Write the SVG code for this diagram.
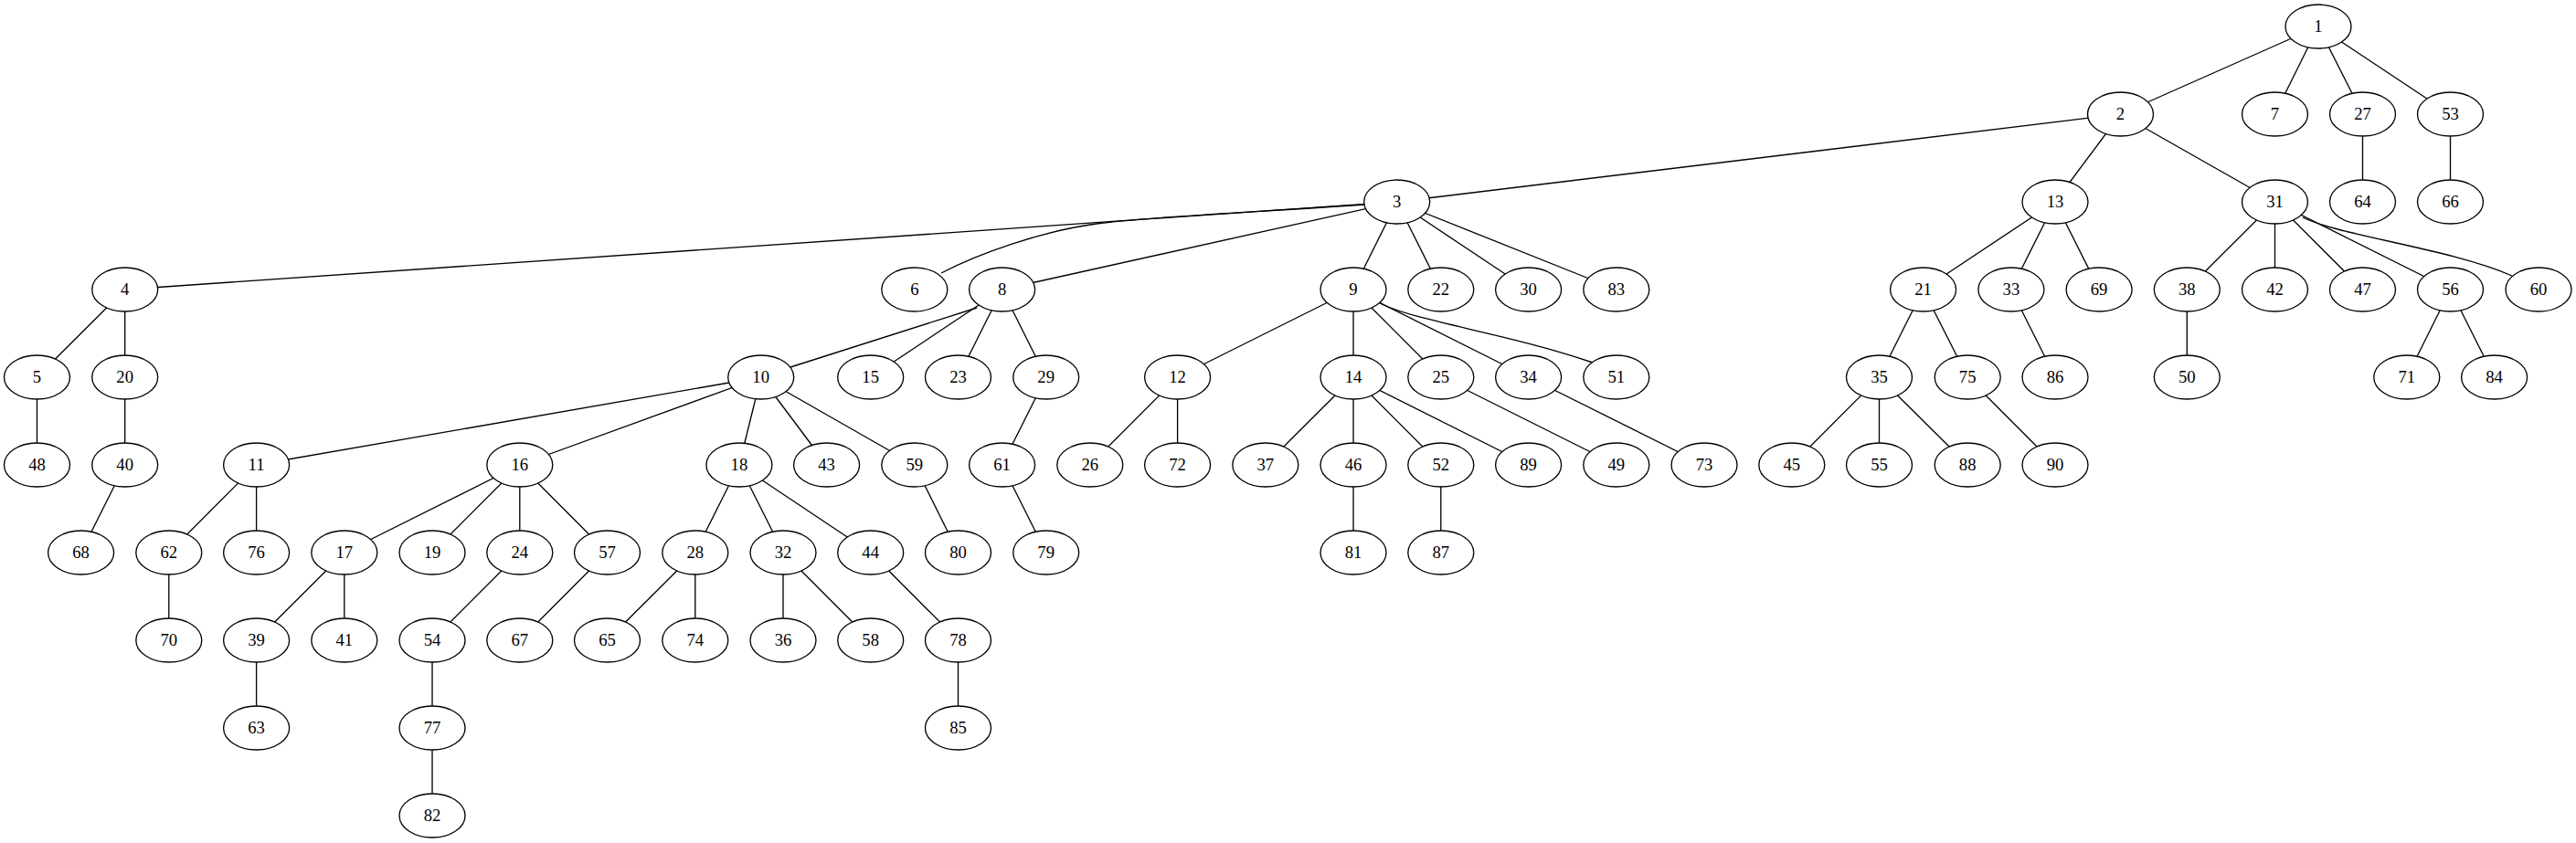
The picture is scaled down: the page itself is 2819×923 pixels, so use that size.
<svg xmlns="http://www.w3.org/2000/svg" width="2819" height="923" viewBox="0 0 2819 923">
<style>
.edges path{fill:none;stroke:#000;stroke-width:1.33}
.node ellipse{fill:#fff;stroke:#000;stroke-width:1.33}
.node text{font-family:"Liberation Serif","Times New Roman",serif;font-size:18.67px;text-anchor:middle;fill:#000}
</style>
<rect width="2819" height="923" fill="#fff"/>
<g id="edges" class="edges">
<path d="M2537,29L2320.5,125"/>
<path d="M2537,29L2489.5,125"/>
<path d="M2537,29L2585.5,125"/>
<path d="M2537,29L2681.5,125"/>
<path d="M2320.5,125L1528.7,221"/>
<path d="M2320.5,125L2249,221"/>
<path d="M2320.5,125L2489.5,221"/>
<path d="M2585.5,125L2585.5,221"/>
<path d="M2681.5,125L2681.5,221"/>
<path d="M1528.7,221L136.7,317"/>
<path d="M1493,224C1380,232 1260,237 1200,245S1070,278 1030,299"/>
<path d="M1528.7,221L1096.6,317"/>
<path d="M1528.7,221L1481,317"/>
<path d="M1528.7,221L1576.8,317"/>
<path d="M1528.7,221L1672.6,317"/>
<path d="M1528.7,221L1768.8,317"/>
<path d="M2249,221L2104.6,317"/>
<path d="M2249,221L2200.9,317"/>
<path d="M2249,221L2297.1,317"/>
<path d="M2489.5,221L2393.3,317"/>
<path d="M2489.5,221L2489.5,317"/>
<path d="M2489.5,221L2585.5,317"/>
<path d="M2489.5,221L2681.5,317"/>
<path d="M2520,238C2560,258 2680,272 2749,302"/>
<path d="M136.7,317L40.5,413"/>
<path d="M136.7,317L136.7,413"/>
<path d="M1069,337Q1050,343 865,402"/>
<path d="M1096.6,317L952.7,413"/>
<path d="M1096.6,317L1048.5,413"/>
<path d="M1096.6,317L1144.7,413"/>
<path d="M1481,317L1288.6,413"/>
<path d="M1481,317L1481,413"/>
<path d="M1481,317L1576.8,413"/>
<path d="M1481,317L1672.6,413"/>
<path d="M1510,332C1550,352 1650,365 1743,397"/>
<path d="M2104.6,317L2056.5,413"/>
<path d="M2104.6,317L2153.2,413"/>
<path d="M2200.9,317L2249,413"/>
<path d="M2393.3,317L2393.3,413"/>
<path d="M2681.5,317L2633.8,413"/>
<path d="M2681.5,317L2729.6,413"/>
<path d="M40.5,413L40.5,509"/>
<path d="M136.7,413L136.7,509"/>
<path d="M832.7,413L280.6,509"/>
<path d="M832.7,413L568.8,509"/>
<path d="M832.7,413L808.9,509"/>
<path d="M832.7,413L904.6,509"/>
<path d="M832.7,413L1000.8,509"/>
<path d="M1144.7,413L1096.6,509"/>
<path d="M1288.6,413L1192.8,509"/>
<path d="M1288.6,413L1288.6,509"/>
<path d="M1481,413L1384.8,509"/>
<path d="M1481,413L1481,509"/>
<path d="M1481,413L1576.8,509"/>
<path d="M1481,413L1672.6,509"/>
<path d="M1576.8,413L1768.8,509"/>
<path d="M1672.6,413L1865,509"/>
<path d="M2056.5,413L1960.8,509"/>
<path d="M2056.5,413L2056.5,509"/>
<path d="M2056.5,413L2153.2,509"/>
<path d="M2153.2,413L2249,509"/>
<path d="M136.7,509L88.6,605"/>
<path d="M280.6,509L184.8,605"/>
<path d="M280.6,509L280.6,605"/>
<path d="M568.8,509L376.8,605"/>
<path d="M568.8,509L473,605"/>
<path d="M568.8,509L568.8,605"/>
<path d="M568.8,509L664.5,605"/>
<path d="M808.9,509L760.8,605"/>
<path d="M808.9,509L857,605"/>
<path d="M808.9,509L952.7,605"/>
<path d="M1000.8,509L1048.5,605"/>
<path d="M1096.6,509L1144.7,605"/>
<path d="M1481,509L1481,605"/>
<path d="M1576.8,509L1576.8,605"/>
<path d="M184.8,605L184.8,701"/>
<path d="M376.8,605L280.6,701"/>
<path d="M376.8,605L376.8,701"/>
<path d="M568.8,605L473,701"/>
<path d="M664.5,605L568.8,701"/>
<path d="M760.8,605L664.5,701"/>
<path d="M760.8,605L760.8,701"/>
<path d="M857,605L857,701"/>
<path d="M857,605L952.7,701"/>
<path d="M952.7,605L1048.5,701"/>
<path d="M280.6,701L280.6,797"/>
<path d="M473,701L473,797"/>
<path d="M1048.5,701L1048.5,797"/>
<path d="M473,797L473,893"/>
</g>
<g id="n1" class="node"><ellipse cx="2537" cy="29" rx="36" ry="24"/><text x="2537" y="35">1</text></g>
<g id="n2" class="node"><ellipse cx="2320.5" cy="125" rx="36" ry="24"/><text x="2320.5" y="131">2</text></g>
<g id="n7" class="node"><ellipse cx="2489.5" cy="125" rx="36" ry="24"/><text x="2489.5" y="131">7</text></g>
<g id="n27" class="node"><ellipse cx="2585.5" cy="125" rx="36" ry="24"/><text x="2585.5" y="131">27</text></g>
<g id="n53" class="node"><ellipse cx="2681.5" cy="125" rx="36" ry="24"/><text x="2681.5" y="131">53</text></g>
<g id="n3" class="node"><ellipse cx="1528.7" cy="221" rx="36" ry="24"/><text x="1528.7" y="227">3</text></g>
<g id="n13" class="node"><ellipse cx="2249" cy="221" rx="36" ry="24"/><text x="2249" y="227">13</text></g>
<g id="n31" class="node"><ellipse cx="2489.5" cy="221" rx="36" ry="24"/><text x="2489.5" y="227">31</text></g>
<g id="n64" class="node"><ellipse cx="2585.5" cy="221" rx="36" ry="24"/><text x="2585.5" y="227">64</text></g>
<g id="n66" class="node"><ellipse cx="2681.5" cy="221" rx="36" ry="24"/><text x="2681.5" y="227">66</text></g>
<g id="n4" class="node"><ellipse cx="136.7" cy="317" rx="36" ry="24"/><text x="136.7" y="323">4</text></g>
<g id="n6" class="node"><ellipse cx="1000.8" cy="317" rx="36" ry="24"/><text x="1000.8" y="323">6</text></g>
<g id="n8" class="node"><ellipse cx="1096.6" cy="317" rx="36" ry="24"/><text x="1096.6" y="323">8</text></g>
<g id="n9" class="node"><ellipse cx="1481" cy="317" rx="36" ry="24"/><text x="1481" y="323">9</text></g>
<g id="n22" class="node"><ellipse cx="1576.8" cy="317" rx="36" ry="24"/><text x="1576.8" y="323">22</text></g>
<g id="n30" class="node"><ellipse cx="1672.6" cy="317" rx="36" ry="24"/><text x="1672.6" y="323">30</text></g>
<g id="n83" class="node"><ellipse cx="1768.8" cy="317" rx="36" ry="24"/><text x="1768.8" y="323">83</text></g>
<g id="n21" class="node"><ellipse cx="2104.6" cy="317" rx="36" ry="24"/><text x="2104.6" y="323">21</text></g>
<g id="n33" class="node"><ellipse cx="2200.9" cy="317" rx="36" ry="24"/><text x="2200.9" y="323">33</text></g>
<g id="n69" class="node"><ellipse cx="2297.1" cy="317" rx="36" ry="24"/><text x="2297.1" y="323">69</text></g>
<g id="n38" class="node"><ellipse cx="2393.3" cy="317" rx="36" ry="24"/><text x="2393.3" y="323">38</text></g>
<g id="n42" class="node"><ellipse cx="2489.5" cy="317" rx="36" ry="24"/><text x="2489.5" y="323">42</text></g>
<g id="n47" class="node"><ellipse cx="2585.5" cy="317" rx="36" ry="24"/><text x="2585.5" y="323">47</text></g>
<g id="n56" class="node"><ellipse cx="2681.5" cy="317" rx="36" ry="24"/><text x="2681.5" y="323">56</text></g>
<g id="n60" class="node"><ellipse cx="2778" cy="317" rx="36" ry="24"/><text x="2778" y="323">60</text></g>
<g id="n5" class="node"><ellipse cx="40.5" cy="413" rx="36" ry="24"/><text x="40.5" y="419">5</text></g>
<g id="n20" class="node"><ellipse cx="136.7" cy="413" rx="36" ry="24"/><text x="136.7" y="419">20</text></g>
<g id="n10" class="node"><ellipse cx="832.7" cy="413" rx="36" ry="24"/><text x="832.7" y="419">10</text></g>
<g id="n15" class="node"><ellipse cx="952.7" cy="413" rx="36" ry="24"/><text x="952.7" y="419">15</text></g>
<g id="n23" class="node"><ellipse cx="1048.5" cy="413" rx="36" ry="24"/><text x="1048.5" y="419">23</text></g>
<g id="n29" class="node"><ellipse cx="1144.7" cy="413" rx="36" ry="24"/><text x="1144.7" y="419">29</text></g>
<g id="n12" class="node"><ellipse cx="1288.6" cy="413" rx="36" ry="24"/><text x="1288.6" y="419">12</text></g>
<g id="n14" class="node"><ellipse cx="1481" cy="413" rx="36" ry="24"/><text x="1481" y="419">14</text></g>
<g id="n25" class="node"><ellipse cx="1576.8" cy="413" rx="36" ry="24"/><text x="1576.8" y="419">25</text></g>
<g id="n34" class="node"><ellipse cx="1672.6" cy="413" rx="36" ry="24"/><text x="1672.6" y="419">34</text></g>
<g id="n51" class="node"><ellipse cx="1768.8" cy="413" rx="36" ry="24"/><text x="1768.8" y="419">51</text></g>
<g id="n35" class="node"><ellipse cx="2056.5" cy="413" rx="36" ry="24"/><text x="2056.5" y="419">35</text></g>
<g id="n75" class="node"><ellipse cx="2153.2" cy="413" rx="36" ry="24"/><text x="2153.2" y="419">75</text></g>
<g id="n86" class="node"><ellipse cx="2249" cy="413" rx="36" ry="24"/><text x="2249" y="419">86</text></g>
<g id="n50" class="node"><ellipse cx="2393.3" cy="413" rx="36" ry="24"/><text x="2393.3" y="419">50</text></g>
<g id="n71" class="node"><ellipse cx="2633.8" cy="413" rx="36" ry="24"/><text x="2633.8" y="419">71</text></g>
<g id="n84" class="node"><ellipse cx="2729.6" cy="413" rx="36" ry="24"/><text x="2729.6" y="419">84</text></g>
<g id="n48" class="node"><ellipse cx="40.5" cy="509" rx="36" ry="24"/><text x="40.5" y="515">48</text></g>
<g id="n40" class="node"><ellipse cx="136.7" cy="509" rx="36" ry="24"/><text x="136.7" y="515">40</text></g>
<g id="n11" class="node"><ellipse cx="280.6" cy="509" rx="36" ry="24"/><text x="280.6" y="515">11</text></g>
<g id="n16" class="node"><ellipse cx="568.8" cy="509" rx="36" ry="24"/><text x="568.8" y="515">16</text></g>
<g id="n18" class="node"><ellipse cx="808.9" cy="509" rx="36" ry="24"/><text x="808.9" y="515">18</text></g>
<g id="n43" class="node"><ellipse cx="904.6" cy="509" rx="36" ry="24"/><text x="904.6" y="515">43</text></g>
<g id="n59" class="node"><ellipse cx="1000.8" cy="509" rx="36" ry="24"/><text x="1000.8" y="515">59</text></g>
<g id="n61" class="node"><ellipse cx="1096.6" cy="509" rx="36" ry="24"/><text x="1096.6" y="515">61</text></g>
<g id="n26" class="node"><ellipse cx="1192.8" cy="509" rx="36" ry="24"/><text x="1192.8" y="515">26</text></g>
<g id="n72" class="node"><ellipse cx="1288.6" cy="509" rx="36" ry="24"/><text x="1288.6" y="515">72</text></g>
<g id="n37" class="node"><ellipse cx="1384.8" cy="509" rx="36" ry="24"/><text x="1384.8" y="515">37</text></g>
<g id="n46" class="node"><ellipse cx="1481" cy="509" rx="36" ry="24"/><text x="1481" y="515">46</text></g>
<g id="n52" class="node"><ellipse cx="1576.8" cy="509" rx="36" ry="24"/><text x="1576.8" y="515">52</text></g>
<g id="n89" class="node"><ellipse cx="1672.6" cy="509" rx="36" ry="24"/><text x="1672.6" y="515">89</text></g>
<g id="n49" class="node"><ellipse cx="1768.8" cy="509" rx="36" ry="24"/><text x="1768.8" y="515">49</text></g>
<g id="n73" class="node"><ellipse cx="1865" cy="509" rx="36" ry="24"/><text x="1865" y="515">73</text></g>
<g id="n45" class="node"><ellipse cx="1960.8" cy="509" rx="36" ry="24"/><text x="1960.8" y="515">45</text></g>
<g id="n55" class="node"><ellipse cx="2056.5" cy="509" rx="36" ry="24"/><text x="2056.5" y="515">55</text></g>
<g id="n88" class="node"><ellipse cx="2153.2" cy="509" rx="36" ry="24"/><text x="2153.2" y="515">88</text></g>
<g id="n90" class="node"><ellipse cx="2249" cy="509" rx="36" ry="24"/><text x="2249" y="515">90</text></g>
<g id="n68" class="node"><ellipse cx="88.6" cy="605" rx="36" ry="24"/><text x="88.6" y="611">68</text></g>
<g id="n62" class="node"><ellipse cx="184.8" cy="605" rx="36" ry="24"/><text x="184.8" y="611">62</text></g>
<g id="n76" class="node"><ellipse cx="280.6" cy="605" rx="36" ry="24"/><text x="280.6" y="611">76</text></g>
<g id="n17" class="node"><ellipse cx="376.8" cy="605" rx="36" ry="24"/><text x="376.8" y="611">17</text></g>
<g id="n19" class="node"><ellipse cx="473" cy="605" rx="36" ry="24"/><text x="473" y="611">19</text></g>
<g id="n24" class="node"><ellipse cx="568.8" cy="605" rx="36" ry="24"/><text x="568.8" y="611">24</text></g>
<g id="n57" class="node"><ellipse cx="664.5" cy="605" rx="36" ry="24"/><text x="664.5" y="611">57</text></g>
<g id="n28" class="node"><ellipse cx="760.8" cy="605" rx="36" ry="24"/><text x="760.8" y="611">28</text></g>
<g id="n32" class="node"><ellipse cx="857" cy="605" rx="36" ry="24"/><text x="857" y="611">32</text></g>
<g id="n44" class="node"><ellipse cx="952.7" cy="605" rx="36" ry="24"/><text x="952.7" y="611">44</text></g>
<g id="n80" class="node"><ellipse cx="1048.5" cy="605" rx="36" ry="24"/><text x="1048.5" y="611">80</text></g>
<g id="n79" class="node"><ellipse cx="1144.7" cy="605" rx="36" ry="24"/><text x="1144.7" y="611">79</text></g>
<g id="n81" class="node"><ellipse cx="1481" cy="605" rx="36" ry="24"/><text x="1481" y="611">81</text></g>
<g id="n87" class="node"><ellipse cx="1576.8" cy="605" rx="36" ry="24"/><text x="1576.8" y="611">87</text></g>
<g id="n70" class="node"><ellipse cx="184.8" cy="701" rx="36" ry="24"/><text x="184.8" y="707">70</text></g>
<g id="n39" class="node"><ellipse cx="280.6" cy="701" rx="36" ry="24"/><text x="280.6" y="707">39</text></g>
<g id="n41" class="node"><ellipse cx="376.8" cy="701" rx="36" ry="24"/><text x="376.8" y="707">41</text></g>
<g id="n54" class="node"><ellipse cx="473" cy="701" rx="36" ry="24"/><text x="473" y="707">54</text></g>
<g id="n67" class="node"><ellipse cx="568.8" cy="701" rx="36" ry="24"/><text x="568.8" y="707">67</text></g>
<g id="n65" class="node"><ellipse cx="664.5" cy="701" rx="36" ry="24"/><text x="664.5" y="707">65</text></g>
<g id="n74" class="node"><ellipse cx="760.8" cy="701" rx="36" ry="24"/><text x="760.8" y="707">74</text></g>
<g id="n36" class="node"><ellipse cx="857" cy="701" rx="36" ry="24"/><text x="857" y="707">36</text></g>
<g id="n58" class="node"><ellipse cx="952.7" cy="701" rx="36" ry="24"/><text x="952.7" y="707">58</text></g>
<g id="n78" class="node"><ellipse cx="1048.5" cy="701" rx="36" ry="24"/><text x="1048.5" y="707">78</text></g>
<g id="n63" class="node"><ellipse cx="280.6" cy="797" rx="36" ry="24"/><text x="280.6" y="803">63</text></g>
<g id="n77" class="node"><ellipse cx="473" cy="797" rx="36" ry="24"/><text x="473" y="803">77</text></g>
<g id="n85" class="node"><ellipse cx="1048.5" cy="797" rx="36" ry="24"/><text x="1048.5" y="803">85</text></g>
<g id="n82" class="node"><ellipse cx="473" cy="893" rx="36" ry="24"/><text x="473" y="899">82</text></g>
</svg>
